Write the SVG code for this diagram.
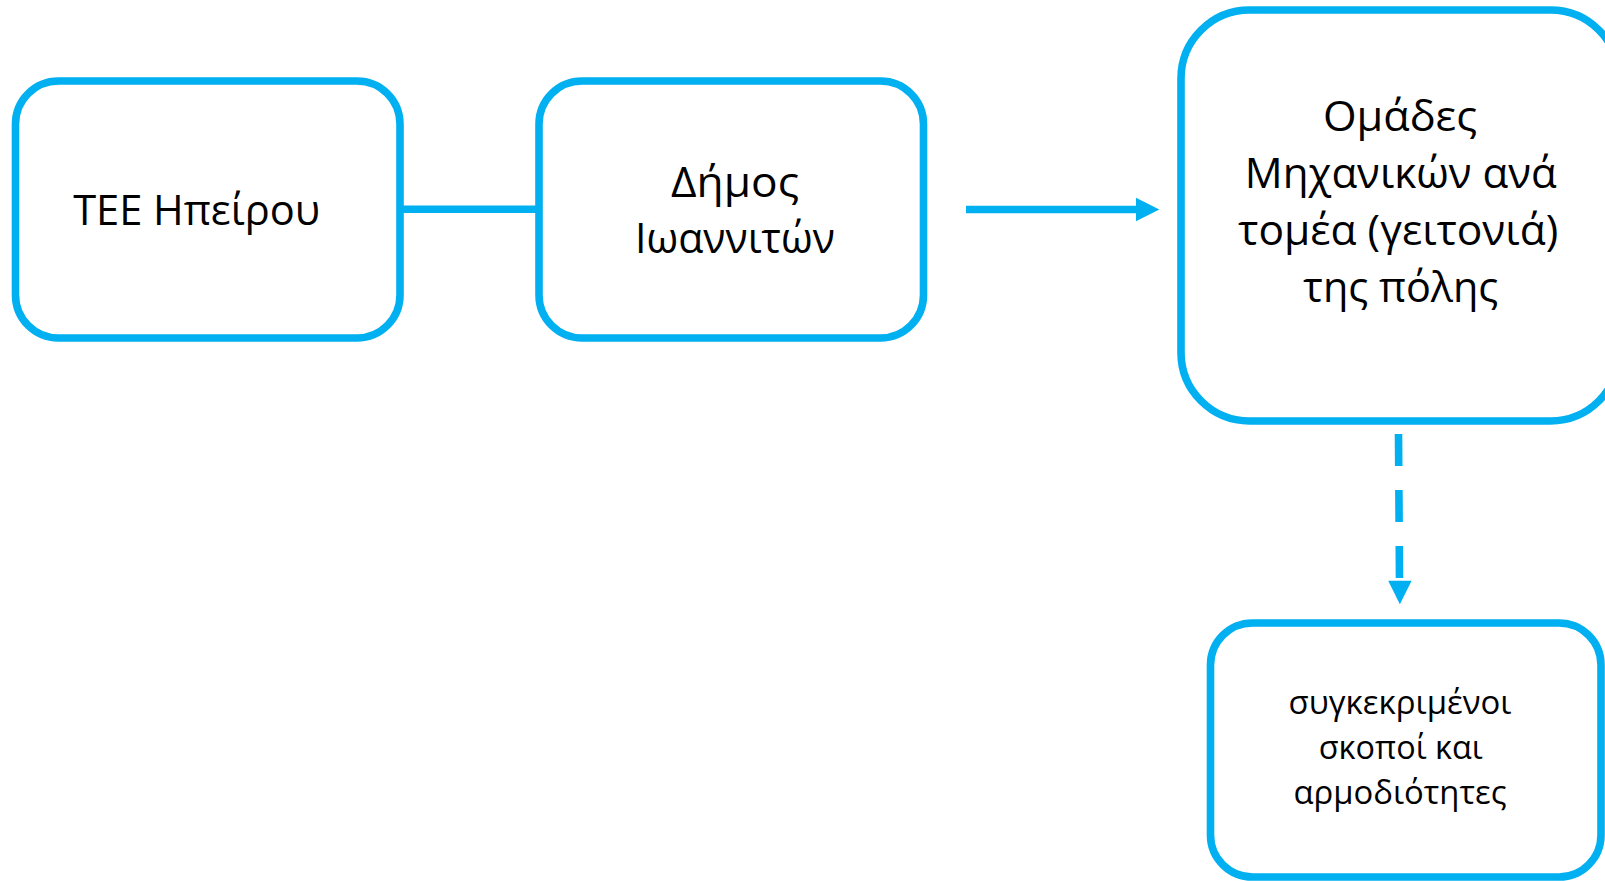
<svg xmlns="http://www.w3.org/2000/svg" width="1605" height="881" viewBox="0 0 1605 881">
<style>
.box{fill:#FFFFFF;stroke:#00B0F0;stroke-width:7.6}
.conn{stroke:#00B0F0;stroke-width:7.6;fill:none}
.head{fill:#00B0F0}
.big{font-family:"Open Sans","Liberation Sans",sans-serif;font-size:42px;fill:#000000;text-anchor:middle}
.small{font-family:"Open Sans","Liberation Sans",sans-serif;font-size:33px;fill:#000000;text-anchor:middle}
</style>
<rect width="1605" height="881" fill="#FFFFFF"/>
<g id="connectors">
<line class="conn" x1="400" y1="209.3" x2="539" y2="209.3"/>
<line class="conn" x1="966" y1="209.5" x2="1137" y2="209.5"/>
<polygon class="head" points="1136,197.7 1159.3,209.5 1136,221.3"/>
<line class="conn" x1="1398.5" y1="434" x2="1399.5" y2="580" stroke-dasharray="32 24"/>
<polygon class="head" points="1388.2,580.7 1411.6,580.7 1399.9,604.3"/>
</g>
<g id="node-tee">
<rect class="box" x="15.5" y="81" width="384.5" height="257" rx="43" ry="43"/>
<text class="big" x="196.7" y="225" textLength="247" lengthAdjust="spacingAndGlyphs">TEE Ηπείρου</text>
</g>
<g id="node-dimos">
<rect class="box" x="539" y="81" width="384.5" height="257" rx="43" ry="43"/>
<text class="big" x="735" y="196.7" textLength="128" lengthAdjust="spacingAndGlyphs">Δήμος</text>
<text class="big" x="735" y="253.3" textLength="200" lengthAdjust="spacingAndGlyphs">Ιωαννιτών</text>
</g>
<g id="node-omades">
<rect class="box" x="1181" y="10" width="438" height="411" rx="68.5" ry="68.5"/>
<text class="big" x="1400" y="130.7" textLength="154" lengthAdjust="spacingAndGlyphs">Ομάδες</text>
<text class="big" x="1400.8" y="188.3" textLength="312" lengthAdjust="spacingAndGlyphs">Μηχανικών ανά</text>
<text class="big" x="1398.3" y="245" textLength="320" lengthAdjust="spacingAndGlyphs">τομέα (γειτονιά)</text>
<text class="big" x="1400.8" y="301.7" textLength="195" lengthAdjust="spacingAndGlyphs">της πόλης</text>
</g>
<g id="node-skopoi">
<rect class="box" x="1210.5" y="623" width="390.5" height="254" rx="42" ry="42"/>
<text class="small" x="1400" y="713.5" textLength="223" lengthAdjust="spacingAndGlyphs">συγκεκριμένοι</text>
<text class="small" x="1400.8" y="758.8" textLength="164" lengthAdjust="spacingAndGlyphs">σκοποί και</text>
<text class="small" x="1400" y="803.8" textLength="213" lengthAdjust="spacingAndGlyphs">αρμοδιότητες</text>
</g>
</svg>
